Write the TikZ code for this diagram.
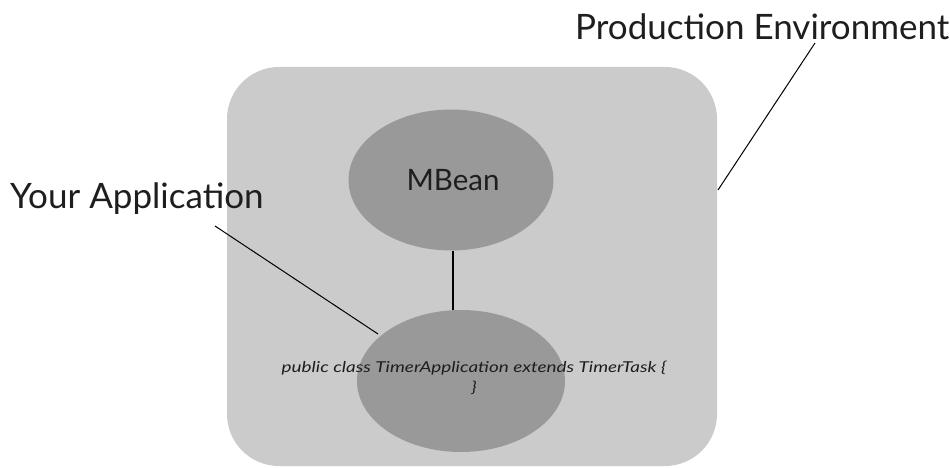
\documentclass[tikz,border=0pt]{standalone}
\usepackage{fontspec}
\setmainfont{Lato}
\newfontfamily\codefont[FakeStretch=1.26]{Lato}
\usetikzlibrary{shapes.geometric}
\definecolor{envgray}{HTML}{CBCBCB}
\definecolor{blobgray}{HTML}{999999}
\definecolor{inkgray}{HTML}{1E1E1E}
\tikzset{
  blob/.style={ellipse, fill=blobgray, inner sep=0pt},
  callout/.style={font=\fontsize{35}{38}\selectfont, text=inkgray, inner sep=0pt, anchor=base west},
  leader/.style={draw=black, line width=1pt}
}
\begin{document}
\begin{tikzpicture}[x=1pt, y=-1pt]
  \useasboundingbox (0,0) rectangle (950,468);
  \fill[white] (0,0) rectangle (950,468);
  % production environment
  \fill[envgray, rounded corners=52pt] (227,67) rectangle (717,466);
  \node[blob, minimum width=205pt, minimum height=141pt] (mbean) at (451,180) {};
  \node[font=\fontsize{29.5}{32}\selectfont, text=inkgray, inner sep=0pt, anchor=base] (mbeantext) at (453,190) {MBean};
  \node[blob, minimum width=208pt, minimum height=142pt] (app) at (461,381) {};
  % base anchor sits on the last line of a multi-line node
  \node[font=\codefont\itshape\fontsize{15}{20}\selectfont, text=inkgray, align=center, inner sep=0pt, anchor=base] (code) at (474,392)
    {public class TimerApplication extends TimerTask \{\\\}};
  \draw[line width=1.3pt] (mbean.south) ++(2,0) coordinate (m1) -- (m1 |- app.north);
  % labels and leaders
  \node[callout] (prod) at (575,40) {Production Environment};
  \node[callout] (your) at (10,208) {Your Application};
  \coordinate (prodend) at (718,190);
  \coordinate (prodtop) at (815,43);
  \coordinate (yourstart) at (215,226);
  \coordinate (yourend) at (378,334);
  \draw[leader] (prodtop) -- (prodend);
  \draw[leader] (yourstart) -- (yourend);
\end{tikzpicture}
\end{document}
